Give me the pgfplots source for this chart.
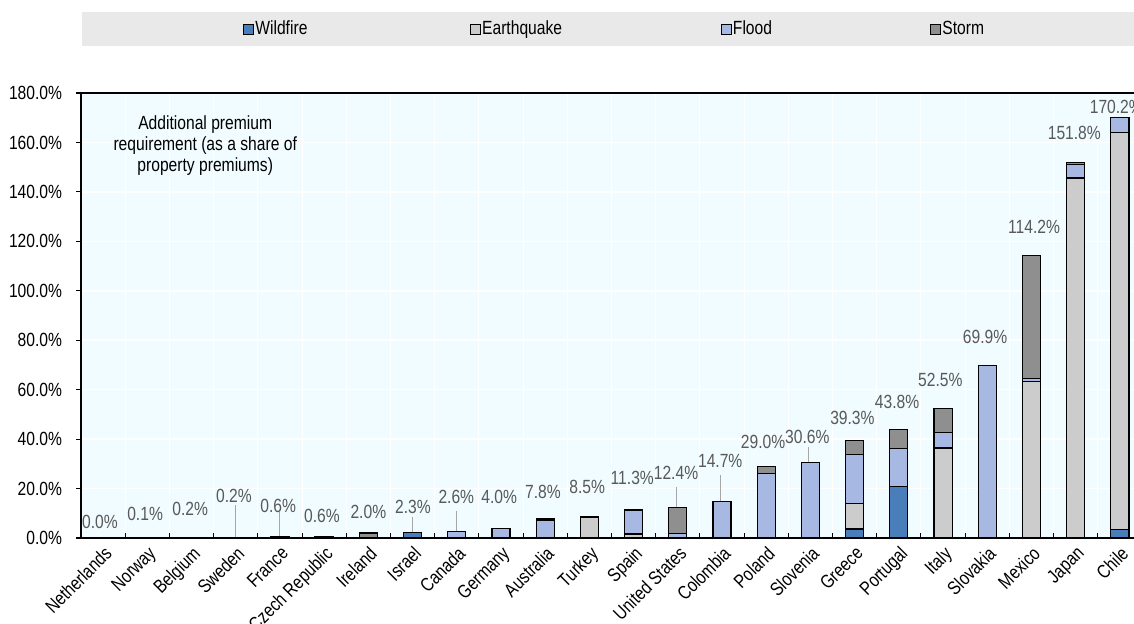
\documentclass[border=0pt]{standalone}
\usepackage{fontspec}
\setmainfont{Liberation Sans}[FakeStretch=0.82]
\usepackage{pgfplots}
\pgfplotsset{compat=1.18}
\usepackage{pgfplotstable}

\definecolor{cWild}{RGB}{74,126,187}
\definecolor{cEq}{RGB}{204,204,204}
\definecolor{cFlood}{RGB}{167,185,227}
\definecolor{cStorm}{RGB}{143,143,143}
\definecolor{bgc}{RGB}{240,252,255}
\definecolor{legbg}{RGB}{233,233,233}
\definecolor{lblc}{RGB}{89,89,89}
\definecolor{leadc}{RGB}{166,166,166}

\pgfplotstableread{
x wild eq flood storm
0 0 0 0 0
1 0 0 0.1 0
2 0 0 0.2 0
3 0 0 0.2 0
4 0 0 0.2 0.4
5 0 0 0.1 0.5
6 0 0 0.2 1.8
7 2.3 0 0 0
8 0 0 2.6 0
9 0 0 4.0 0
10 0 0 7.3 0.5
11 0 8.5 0 0
12 0 1.6 9.7 0
13 0 0 1.8 10.6
14 0 0 14.7 0
15 0 0 26.0 3.0
16 0 0 30.6 0
17 3.6 10.3 19.8 5.6
18 20.7 0 15.4 7.7
19 0 36.4 6.4 9.7
20 0 0 69.9 0
21 0 63.2 1.2 49.8
22 0 145.6 5.6 0.6
23 3.5 160.4 6.3 0
}\datatab

\newcommand{\myfont}{\fontsize{14.3}{16}\selectfont}

\begin{document}
\begin{tikzpicture}
\useasboundingbox (0,0) rectangle (850.5pt,468pt);
\fill[legbg] (61.5pt,433.5pt) rectangle (850.5pt,459pt);
\begin{axis}[
  at={(60.75pt,64.5pt)}, anchor=south west,
  width=789.75pt, height=333.75pt, scale only axis,
  xmin=-0.5, xmax=23.32, ymin=0, ymax=180,
  ybar stacked, bar width=0.41,
  clip=false,
  axis background/.style={fill=bgc},
  axis line style={draw=none},
  xtick={0,...,23},
  xticklabels={Netherlands,Norway,Belgium,Sweden,France,Czech Republic,Ireland,Israel,Canada,Germany,Australia,Turkey,Spain,United States,Colombia,Poland,Slovenia,Greece,Portugal,Italy,Slovakia,Mexico,Japan,Chile},
  xtick pos=left, ytick pos=left,
  tick align=outside,
  major tick length=3.75pt,
  xtick style={draw=none},
  ytick style={black, line width=0.8pt},
  extra x ticks={0.5,1.5,...,22.5},
  extra x tick labels={},
  extra x tick style={tick align=inside, xtick style={draw=black, line width=0.8pt}, grid=major, major grid style={white, line width=0.75pt}},
  x tick label style={rotate=45, anchor=north east, inner sep=1pt, font=\myfont},
  ytick={0,20,...,180},
  yticklabels={0.0\%,20.0\%,40.0\%,60.0\%,80.0\%,100.0\%,120.0\%,140.0\%,160.0\%,180.0\%},
  y tick label style={font=\myfont, inner sep=2pt, xshift=-8.25pt},
  ymajorgrids,
  major grid style={white, line width=1.1pt},
  legend columns=4,
  legend style={at={(0.1538,1.1438)}, anchor=west, draw=none, fill=none,
    inner xsep=0pt, inner ysep=0pt, font=\myfont, nodes={inner sep=1pt},
    /tikz/every even column/.append style={column sep=0pt}},
  legend image code/.code={\draw[#1,line width=0.6pt] (0pt,-3.75pt) rectangle (7.5pt,3.75pt);},
  every axis plot/.append style={draw=black, line width=0.9pt},
]
\addplot[fill=cWild] table[x=x,y=wild]{\datatab};
\addlegendentry{\makebox[160pt][l]{Wildfire}}
\addplot[fill=cEq] table[x=x,y=eq]{\datatab};
\addlegendentry{\makebox[178pt][l]{Earthquake}}
\addplot[fill=cFlood] table[x=x,y=flood]{\datatab};
\addlegendentry{\makebox[147pt][l]{Flood}}
\addplot[fill=cStorm] table[x=x,y=storm]{\datatab};
\addlegendentry{Storm}

\draw[black, line width=1pt] (rel axis cs:0,0) -- (rel axis cs:0,1) -- (rel axis cs:1,1);
\draw[black, line width=1.8pt] (rel axis cs:0,0) -- (rel axis cs:1,0);

\draw[leadc, line width=0.75pt] (axis cs:2.99,13.3) -- (axis cs:2.99,0.3);
\draw[leadc, line width=0.75pt] (axis cs:3.98,10.5) -- (axis cs:3.98,0.6);
\draw[leadc, line width=0.75pt] (axis cs:7.01,8.5) -- (axis cs:7.01,2.3);
\draw[leadc, line width=0.75pt] (axis cs:7.99,10.9) -- (axis cs:7.99,2.6);
\draw[leadc, line width=0.75pt] (axis cs:12.96,20.6) -- (axis cs:12.96,12.4);
\draw[leadc, line width=0.75pt] (axis cs:13.96,25.5) -- (axis cs:13.96,14.7);
\draw[leadc, line width=0.75pt] (axis cs:15.95,36.8) -- (axis cs:15.95,30.6);

\node[text=lblc, font=\myfont, inner sep=0pt] at (axis cs:-0.07,6.5) {0.0\%};
\node[text=lblc, font=\myfont, inner sep=0pt] at (axis cs:0.95,9.7) {0.1\%};
\node[text=lblc, font=\myfont, inner sep=0pt] at (axis cs:1.97,11.7) {0.2\%};
\node[text=lblc, font=\myfont, inner sep=0pt] at (axis cs:2.96,17.0) {0.2\%};
\node[text=lblc, font=\myfont, inner sep=0pt] at (axis cs:3.96,12.9) {0.6\%};
\node[text=lblc, font=\myfont, inner sep=0pt] at (axis cs:4.95,8.9) {0.6\%};
\node[text=lblc, font=\myfont, inner sep=0pt] at (axis cs:6.0,10.5) {2.0\%};
\node[text=lblc, font=\myfont, inner sep=0pt] at (axis cs:7.01,12.5) {2.3\%};
\node[text=lblc, font=\myfont, inner sep=0pt] at (axis cs:7.99,16.6) {2.6\%};
\node[text=lblc, font=\myfont, inner sep=0pt] at (axis cs:8.96,16.6) {4.0\%};
\node[text=lblc, font=\myfont, inner sep=0pt] at (axis cs:9.95,18.6) {7.8\%};
\node[text=lblc, font=\myfont, inner sep=0pt] at (axis cs:10.95,20.6) {8.5\%};
\node[text=lblc, font=\myfont, inner sep=0pt] at (axis cs:11.97,24.3) {11.3\%};
\node[text=lblc, font=\myfont, inner sep=0pt] at (axis cs:12.96,26.3) {12.4\%};
\node[text=lblc, font=\myfont, inner sep=0pt] at (axis cs:13.96,31.1) {14.7\%};
\node[text=lblc, font=\myfont, inner sep=0pt] at (axis cs:14.93,38.8) {29.0\%};
\node[text=lblc, font=\myfont, inner sep=0pt] at (axis cs:15.93,40.9) {30.6\%};
\node[text=lblc, font=\myfont, inner sep=0pt] at (axis cs:16.95,48.5) {39.3\%};
\node[text=lblc, font=\myfont, inner sep=0pt] at (axis cs:17.96,55.0) {43.8\%};
\node[text=lblc, font=\myfont, inner sep=0pt] at (axis cs:18.94,63.9) {52.5\%};
\node[text=lblc, font=\myfont, inner sep=0pt] at (axis cs:19.95,81.3) {69.9\%};
\node[text=lblc, font=\myfont, inner sep=0pt] at (axis cs:21.06,125.8) {114.2\%};
\node[text=lblc, font=\myfont, inner sep=0pt] at (axis cs:21.97,163.8) {151.8\%};
\node[text=lblc, font=\myfont, inner sep=0pt] at (axis cs:22.92,174.3) {170.2\%};

\node[align=center, font=\fontsize{14.3}{15.75}\selectfont, inner sep=0pt] at (axis cs:2.31,158.6) {Additional premium\\requirement (as a share of\\property premiums)};
\end{axis}
\end{tikzpicture}
\end{document}
